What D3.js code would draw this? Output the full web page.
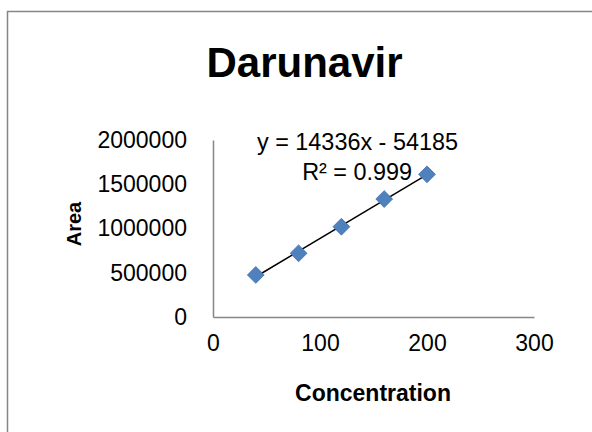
<!DOCTYPE html>
<html>
<head>
<meta charset="utf-8">
<script src="https://cdn.jsdelivr.net/npm/d3@7"></script>
<style>
  body { margin: 0; background: #fff; }
  text { font-family: "Liberation Sans", Arial, sans-serif; fill: #000; }
</style>
</head>
<body>
<div id="chart"></div>
<script>
var concentration = [40, 80, 120, 160, 200];
var area = [475000, 720000, 1020000, 1333000, 1612000];
var xTicks = [0, 100, 200, 300];
var yTicks = [0, 500000, 1000000, 1500000, 2000000];
var title = "Darunavir";
var equation = "y = 14336x - 54185";
var rSquared = "R² = 0.999";

var width = 592, height = 432;
var svg = d3.select('#chart')
  .append('svg')
  .attr("width", width)
  .attr("height", height);

// chart border
svg.append("rect")
  .attr("x", 7.5)
  .attr("y", 11.5)
  .attr("width", 600)
  .attr("height", 440)
  .attr("fill", "none")
  .attr("stroke", "#868686")
  .attr("stroke-width", 1.5);

var x = d3.scaleLinear().domain([0, 300]).range([213, 534]);
var y = d3.scaleLinear().domain([0, 2000000]).range([317, 140]);

var xAxis = d3.axisBottom(x).tickValues(xTicks).tickSize(0).tickPadding(18);
var yAxis = d3.axisLeft(y).tickValues(yTicks).tickSize(0).tickPadding(26)
  .tickFormat(d3.format("d"));

var gx = svg.append("g")
  .attr("transform", "translate(0," + y(0) + ")")
  .call(xAxis);
var gy = svg.append("g")
  .attr("transform", "translate(" + x(0) + ",0)")
  .call(yAxis);

[gx, gy].forEach(function (g) {
  g.select(".domain").attr("stroke", "#868686").attr("stroke-width", 1.5);
  g.selectAll("text")
    .style("font-family", "'Liberation Sans', Arial, sans-serif")
    .style("font-size", "23px")
    .attr("fill", "#000");
});
gx.selectAll("text").attr("dy", "0.71em");

svg.append("text")
  .attr("x", 304.5)
  .attr("y", 77)
  .attr("text-anchor", "middle")
  .style("font-size", "42px")
  .style("font-weight", "bold")
  .text(title);

svg.append("text")
  .attr("x", 373)
  .attr("y", 401)
  .attr("text-anchor", "middle")
  .style("font-size", "23px")
  .style("font-weight", "bold")
  .text("Concentration");

svg.append("text")
  .attr("transform", "translate(81,224) rotate(-90)")
  .attr("text-anchor", "middle")
  .style("font-size", "20px")
  .style("font-weight", "bold")
  .text("Area");

// linear trendline (least squares)
var mx = d3.mean(concentration), my = d3.mean(area);
var sxy = d3.sum(concentration, function (d, i) { return (d - mx) * (area[i] - my); });
var sxx = d3.sum(concentration, function (d) { return (d - mx) * (d - mx); });
var slope = sxy / sxx, intercept = my - slope * mx;
var ext = d3.extent(concentration);

svg.append("line")
  .attr("x1", x(ext[0]))
  .attr("y1", y(slope * ext[0] + intercept))
  .attr("x2", x(ext[1]))
  .attr("y2", y(slope * ext[1] + intercept))
  .attr("stroke", "#000")
  .attr("stroke-width", 1.5);

var data = concentration.map(function (c, i) { return { x: c, y: area[i] }; });
svg.selectAll("path.pt")
  .data(data)
  .enter()
  .append("path")
  .attr("class", "pt")
  .attr("d", d3.symbol().type(d3.symbolDiamond2).size(180))
  .attr("transform", function (d) {
    return "translate(" + x(d.x) + "," + y(d.y) + ")";
  })
  .attr("fill", "#4F81BD")
  .attr("stroke", "#3F6FA8")
  .attr("stroke-width", 0.8);

svg.append("text")
  .attr("x", 257)
  .attr("y", 150)
  .style("font-size", "23.4px")
  .text(equation);

svg.append("text")
  .attr("x", 412)
  .attr("y", 180)
  .attr("text-anchor", "end")
  .style("font-size", "23.4px")
  .text(rSquared);
</script>
</body>
</html>
